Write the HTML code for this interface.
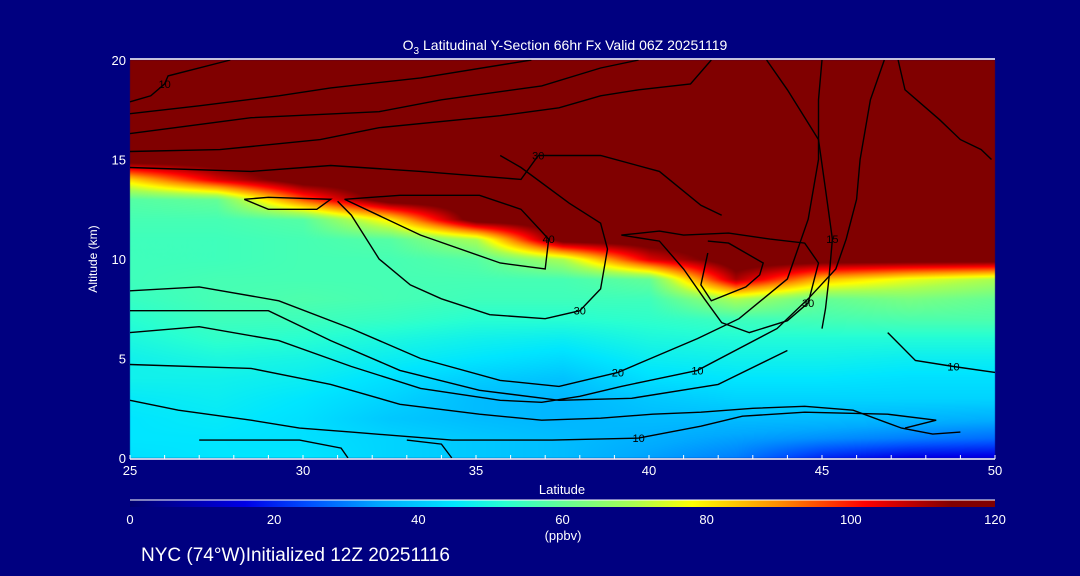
<!DOCTYPE html>
<html><head><meta charset="utf-8">
<style>
html,body{margin:0;padding:0;background:#000080;}
#wrap{position:relative;width:1080px;height:576px;background:#000080;overflow:hidden;font-family:"Liberation Sans",sans-serif;color:#fff;}
canvas{position:absolute;left:0;top:0;}
svg{position:absolute;left:0;top:0;}
</style></head>
<body>
<div id="wrap">
<canvas id="cv" width="1080" height="576"></canvas>
<svg id="sv" width="1080" height="576"></svg>
</div>
<script>
// ---- data ----
const lats = [25,27.5,30,32.5,35,37.5,40,42.5,45,47.5,50];
const alts = [0,1,2,3,4,5,6,7,8,9,10,11,12,13,14,15,16,17,18,19,20];
const o3 = [
[44,45,45,42,40,38,34,30,20,15,14],
[45,45,44,42,40,38,36,34,32,30,28],
[45,46,44,40,38,37,38,38,38,37,36],
[46,47,45,42,38,37,40,42,42,42,42],
[48,48,47,44,41,39,44,45,45,44,44],
[48,50,49,47,45,43,47,48,48,47,47],
[50,53,52,50,48,47,50,51,51,51,51],
[52,55,55,54,52,52,53,55,56,57,57],
[54,56,57,56,55,55,55,70,60,63,60],
[55,56,56,56,56,56,60,110,85,76,70],
[55,55,56,56,58,70,105,120,120,120,120],
[55,55,56,58,70,120,120,120,120,120,120],
[56,56,58,80,120,120,120,120,120,120,120],
[58,60,95,120,120,120,120,120,120,120,120],
[82,105,120,120,120,120,120,120,120,120,120],
[120,120,120,120,120,120,120,120,120,120,120],
[120,120,120,120,120,120,120,120,120,120,120],
[120,120,120,120,120,120,120,120,120,120,120],
[120,120,120,120,120,120,120,120,120,120,120],
[120,120,120,120,120,120,120,120,120,120,120],
[120,120,120,120,120,120,120,120,120,120,120]];
const xTicks = [25,30,35,40,45,50];
const yTicks = [0,5,10,15,20];
const cbTicks = [0,20,40,60,80,100,120];
// contour lines
const contourLabels = ["10","","","","30","40","","30","20","10","","10","","","15","","10","30","",""];
const contourLats = [
[25,25.6,26,26.1,27.9],
[25,27,29.3,30.8,33.4,36.6],
[25,28.5,32.2,34,36.9,38.6,39.7],
[25,27.6,30.5,32.2,35.7,37.4,38.6,39.7,41.2,41.8],
[25,28.5,30.8,33.4,36.3,36.8,38.6,40.3,41.5,42.1],
[31.2,32.8,35.1,36.3,37.1,37,35.7,33.4,31.2],
[28.3,29,30.8,30.4,29,28.3],
[31,31.4,32.2,33.1,34,35.4,37,38,38.6,38.8,38.6,37.7,36.3,35.7],
[25,27,29.3,31.4,33.4,35.7,37.4,39.1,41.4,42.6,44,44.6,44.9,44.9,45],
[25,27,29.3,31.4,33.4,35.7,36.9,38,39.2,41.4,43.7,44.6,45.4,45.7,46,46.1,46.4,46.8],
[25,28.5,30.8,32.8,35.1,36.9,38.6,40.1,41.5,43,44.5,45.9,47.3,48.2,49],
[25,26.4,28.5,29.9,31.4,34.3,37.2,39.7,41.5,42.7,44.5,46.9,48.3,47.4],
[27,29.9,31.1,31.3],[33,34,34.3],
[43.4,44,44.9,45.1,45.3,45.2,45.1,45],
[47.2,47.4,48.4,49,49.6,49.9],
[46.9,47.7,48.8,50],
[39.2,40.3,41,41.6,42.1,42.9,44,44.6,44.9,44.5,43.5,42.3,41,40.3,39.2],
[41.7,42.3,43.3,43.2,42.8,41.8,41.5,41.7],
[25,29,30.8,32.8,35.1,37.4,39.5,42,44]];
const contourAlts = [
[17.9,18.2,18.8,19.2,20],
[17.3,17.7,18.2,18.6,19.1,20],
[16.3,17.1,17.4,18,18.7,19.6,20],
[15.4,15.5,16,16.6,17.2,17.6,18.2,18.5,18.8,20],
[14.6,14.4,14.7,14.4,14,15.2,15.2,14.4,12.7,12.2],
[13,13.2,13.2,12.5,11,9.5,9.8,11.2,13],
[13,13.1,13,12.5,12.5,13],
[12.9,12.2,10,8.7,8,7.2,7,7.4,8.5,10.5,11.8,12.8,14.6,15.2],
[8.4,8.6,7.9,6.5,5,3.9,3.6,4.3,6,7,9,12,15,18,20],
[6.3,6.6,5.9,4.6,3.5,2.9,2.8,3.1,3.6,4.4,6.5,8,9.5,11,13,15,18,20],
[4.7,4.5,3.7,2.7,2.2,1.9,2,2.2,2.3,2.5,2.6,2.4,1.5,1.2,1.3],
[2.9,2.4,1.9,1.5,1.3,0.9,0.9,1,1.6,2.1,2.3,2.2,1.9,1.5],
[0.9,0.9,0.5,0],[0.9,0.7,0],
[20,18.5,16,13.5,11,9,7.5,6.5],
[20,18.5,17,16,15.5,15],
[6.3,4.9,4.6,4.3],
[11.2,10.9,9.5,8,6.8,6.3,6.9,7.8,9.8,10.8,11,11.3,11.2,11.4,11.2],
[10.9,10.8,9.8,9.2,8.6,7.9,8.7,10.3],
[7.4,7.4,5.9,4.4,3.4,2.9,3.0,3.7,5.4]];

// ---- axes ----
const X0=130,X1=995,Y0=458,Y1=60;
const xs = v => X0+(v-25)/(50-25)*(X1-X0);
const ys = v => Y0-(v-0)/(20-0)*(Y0-Y1);
const stops=[[0,[0,0,110]],[16,[0,0,230]],[25,[0,80,255]],[35,[0,170,255]],[40,[0,200,255]],[45,[0,230,255]],[52,[40,255,210]],[60,[100,255,150]],[70,[170,255,80]],[78,[255,255,0]],[90,[255,140,0]],[102,[255,0,0]],[114,[128,0,0]],[120,[128,0,0]]];
function cmap(v){
  if(v<=stops[0][0])return stops[0][1];
  for(let i=1;i<stops.length;i++){if(v<=stops[i][0]){const a=stops[i-1],b=stops[i],t=(v-a[0])/(b[0]-a[0]);return [0,1,2].map(k=>Math.round(a[1][k]+t*(b[1][k]-a[1][k])));}}
  return stops[stops.length-1][1];
}
function field(lat,alt){
  let fi=(lat-lats[0])/(lats[1]-lats[0]),fj=(alt-alts[0])/(alts[1]-alts[0]);
  fi=Math.max(0,Math.min(lats.length-1.0001,fi));fj=Math.max(0,Math.min(alts.length-1.0001,fj));
  const i=Math.floor(fi),j=Math.floor(fj),u=fi-i,w=fj-j;
  return o3[j][i]*(1-u)*(1-w)+o3[j][i+1]*u*(1-w)+o3[j+1][i]*(1-u)*w+o3[j+1][i+1]*u*w;
}
const cv=document.getElementById('cv'),ctx=cv.getContext('2d');
const img=ctx.createImageData(X1-X0,Y0-Y1);
for(let py=0;py<Y0-Y1;py++)for(let px=0;px<X1-X0;px++){
  const lat=25+px/(X1-X0)*25,alt=20-py/(Y0-Y1)*20;
  const c=cmap(field(lat,alt)),o=(py*(X1-X0)+px)*4;
  img.data[o]=c[0];img.data[o+1]=c[1];img.data[o+2]=c[2];img.data[o+3]=255;
}
ctx.putImageData(img,X0,Y1);

const NS="http://www.w3.org/2000/svg",sv=document.getElementById('sv');
function mk(t,a,txt){const e=document.createElementNS(NS,t);for(const k in a)e.setAttribute(k,a[k]);if(txt!==undefined)e.textContent=txt;sv.appendChild(e);return e;}
contourLats.forEach((la,ci)=>{
  const pts=la.map((v,k)=>xs(v).toFixed(1)+','+ys(contourAlts[ci][k]).toFixed(1)).join(' ');
  const e=mk('polyline',{points:pts,fill:'none',stroke:'#000','stroke-width':1.4});
  
  
  if(contourLabels[ci]){
    const m=Math.floor(la.length/2);
    const t=mk('text',{x:xs(la[m]),y:ys(contourAlts[ci][m])+4,fill:'#000','font-size':11,'text-anchor':'middle'},contourLabels[ci]);
    
    
  }
});
let e=mk('line',{x1:X0,y1:Y1-1,x2:X1,y2:Y1-1,stroke:'#fff','stroke-width':1.5});

e=mk('line',{x1:X0,y1:Y0+1,x2:X1,y2:Y0+1,stroke:'#fff','stroke-width':1.5});

for(let l=25;l<=50;l++){const t=mk('line',{x1:xs(l),y1:Y0+1,x2:xs(l),y2:Y0-3,stroke:'#fff'});
}
xTicks.forEach(v=>{const t=mk('text',{x:xs(v),y:Y0+17,fill:'#fff','font-size':13,'text-anchor':'middle'},String(v));
});
yTicks.forEach(v=>{const t=mk('text',{x:126,y:ys(v)+5,fill:'#fff','font-size':13,'text-anchor':'end'},String(v));
});
e=mk('text',{x:97,y:259,fill:'#fff','font-size':12,'text-anchor':'middle',transform:'rotate(-90 97 259)'},'Altitude (km)');

e=mk('text',{x:562,y:494,fill:'#fff','font-size':13,'text-anchor':'middle'},'Latitude');

e=mk('text',{x:565,y:50,fill:'#fff','font-size':14,'text-anchor':'middle'});

e.innerHTML='O<tspan font-size="10" dy="4">3</tspan><tspan dy="-4"> Latitudinal Y-Section 66hr  Fx Valid 06Z 20251119</tspan>';
const defs=mk('defs',{});const g=document.createElementNS(NS,'linearGradient');g.setAttribute('id','cb');defs.appendChild(g);
stops.forEach(s=>{const st=document.createElementNS(NS,'stop');st.setAttribute('offset',(s[0]/120*100)+'%');st.setAttribute('stop-color','rgb('+s[1].join(',')+')');g.appendChild(st);});
e=mk('rect',{x:X0,y:500,width:X1-X0,height:7,fill:'url(#cb)'});

e=mk('line',{x1:X0,y1:500,x2:X1,y2:500,stroke:'#fff','stroke-width':1});

cbTicks.forEach(v=>{const t=mk('text',{x:X0+v/120*(X1-X0),y:524,fill:'#fff','font-size':13,'text-anchor':'middle'},String(v));
});
e=mk('text',{x:563,y:540,fill:'#fff','font-size':13,'text-anchor':'middle'},'(ppbv)');

e=mk('text',{x:141,y:561,fill:'#fff','font-size':19},'NYC (74°W)Initialized 12Z 20251116');

</script>
</body></html>
